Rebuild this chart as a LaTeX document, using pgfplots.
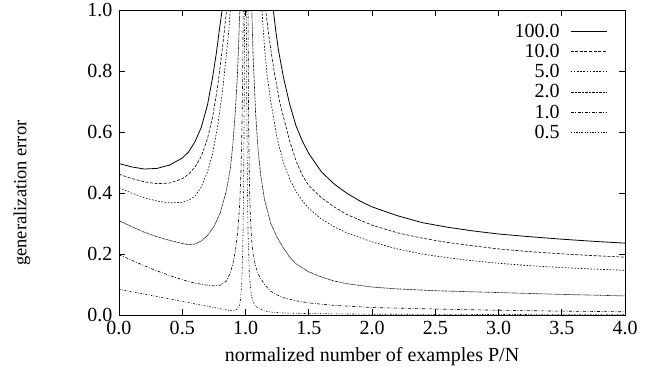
\documentclass[border=0pt]{standalone}
\usepackage{fontspec}
\setmainfont{Liberation Serif}
\usepackage{pgfplots}
\pgfplotsset{compat=1.18}
\begin{document}
\begin{tikzpicture}
\begin{axis}[
  name=ax,
  scale only axis,
  width=506pt, height=305pt,
  xmin=0, xmax=4, ymin=0, ymax=1,
  xtick={0,0.5,...,4}, ytick={0,0.2,...,1},
  tick pos=both, tick align=inside,
  major tick length=6pt,
  axis line style={line width=0.9pt},
  every tick/.style={line width=0.9pt,black},
  font=\fontsize{20}{23}\selectfont,
  /pgf/number format/assume math mode=true,
  xticklabel style={yshift=-3pt,/pgf/number format/.cd,fixed,zerofill,precision=1},
  yticklabel style={xshift=-3pt,/pgf/number format/.cd,fixed,zerofill,precision=1},
  xlabel={normalized number of examples P/N},
  ylabel={generalization error},
  ylabel style={at={(axis description cs:-0.192,0.40)},anchor=center,font=\fontsize{18.5}{21}\selectfont},
  xlabel style={at={(axis description cs:0.5,0)},anchor=north,yshift=-29pt,font=\fontsize{20}{23}\selectfont},
  clip=true,
  legend style={draw=none,fill=none,at={(axis cs:3.86,0.962)},anchor=north east,
    row sep=1.4pt,font=\fontsize{20}{23}\selectfont,inner sep=0pt},
  legend cell align=right,
  legend plot pos=right,
  legend image code/.code={\path[draw=none,fill=none] (0pt,0pt) rectangle (45pt,0pt);\draw[#1] (9pt,0pt) -- (45pt,0pt);},
  every axis plot/.append style={line width=0.6pt,black},
]
% 100.0
\addplot[line width=0.8pt] coordinates {(0,0.497)(0.1,0.486)(0.2,0.479)(0.3,0.481)(0.4,0.492)(0.5,0.515)(0.55,0.535)(0.6,0.568)(0.65,0.615)(0.7,0.69)(0.74,0.78)(0.77,0.86)(0.79,0.925)(0.815,1.0)(0.83,1.05)};
\addlegendentry{100.0}
% 10.0
\addplot[dash pattern=on 3pt off 1.6pt] coordinates {(0,0.462)(0.1,0.448)(0.2,0.437)(0.3,0.431)(0.4,0.433)(0.5,0.447)(0.55,0.462)(0.6,0.485)(0.65,0.52)(0.7,0.58)(0.74,0.65)(0.78,0.75)(0.81,0.85)(0.83,0.92)(0.85,1.0)(0.86,1.05)};
\addlegendentry{10.0}
% 5.0
\addplot[dash pattern=on 1.6pt off 1.6pt] coordinates {(0,0.418)(0.1,0.40)(0.2,0.385)(0.3,0.374)(0.4,0.368)(0.5,0.37)(0.55,0.376)(0.6,0.39)(0.65,0.42)(0.7,0.47)(0.74,0.53)(0.78,0.62)(0.82,0.74)(0.85,0.86)(0.87,0.94)(0.88,1.0)(0.89,1.05)};
\addlegendentry{5.0}
% 2.0
\addplot[line width=0.65pt,dash pattern=on 0.8pt off 0.6pt] coordinates {(0,0.31)(0.1,0.29)(0.2,0.272)(0.3,0.257)(0.4,0.245)(0.5,0.235)(0.55,0.231)(0.6,0.233)(0.65,0.243)(0.7,0.262)(0.75,0.29)(0.8,0.335)(0.85,0.41)(0.88,0.48)(0.9,0.56)(0.92,0.67)(0.935,0.78)(0.945,0.88)(0.955,1.0)(0.96,1.05)};
\addlegendentry{2.0}
% 1.0
\addplot[dash pattern=on 3pt off 1.6pt on 0.8pt off 1.6pt] coordinates {(0,0.198)(0.1,0.18)(0.2,0.162)(0.3,0.145)(0.4,0.13)(0.5,0.116)(0.6,0.105)(0.7,0.098)(0.75,0.096)(0.8,0.098)(0.85,0.112)(0.88,0.14)(0.9,0.168)(0.92,0.21)(0.94,0.28)(0.955,0.37)(0.965,0.48)(0.972,0.62)(0.978,0.8)(0.982,1.0)(0.984,1.05)};
\addlegendentry{1.0}
% 0.5
\addplot[dash pattern=on 1.6pt off 1.6pt on 0.6pt off 1.6pt] coordinates {(0,0.085)(0.1,0.077)(0.2,0.069)(0.3,0.061)(0.4,0.053)(0.5,0.045)(0.6,0.037)(0.7,0.029)(0.8,0.021)(0.85,0.017)(0.9,0.014)(0.93,0.018)(0.95,0.03)(0.96,0.05)(0.97,0.1)(0.975,0.16)(0.98,0.26)(0.985,0.42)(0.99,0.7)(0.993,1.0)(0.994,1.05)};
\addlegendentry{0.5}
% right branches
\addplot[line width=0.8pt,forget plot] coordinates {(1.21,1.05)(1.22,1.0)(1.24,0.93)(1.26,0.87)(1.28,0.825)(1.3,0.78)(1.35,0.69)(1.4,0.62)(1.45,0.57)(1.5,0.53)(1.6,0.47)(1.7,0.43)(1.8,0.40)(1.9,0.375)(2.0,0.355)(2.2,0.326)(2.4,0.303)(2.6,0.288)(2.8,0.276)(3.0,0.266)(3.25,0.257)(3.5,0.249)(3.75,0.242)(4.0,0.236)};
\addplot[dash pattern=on 3pt off 1.6pt,forget plot] coordinates {(1.15,1.05)(1.16,1.0)(1.18,0.93)(1.2,0.87)(1.23,0.79)(1.27,0.70)(1.3,0.65)(1.35,0.57)(1.4,0.505)(1.45,0.458)(1.5,0.425)(1.6,0.385)(1.7,0.355)(1.8,0.33)(2.0,0.295)(2.2,0.27)(2.4,0.252)(2.6,0.238)(2.8,0.227)(3.0,0.217)(3.25,0.208)(3.5,0.201)(3.75,0.195)(4.0,0.19)};
\addplot[dash pattern=on 1.6pt off 1.6pt,forget plot] coordinates {(1.125,1.05)(1.13,1.0)(1.15,0.88)(1.17,0.79)(1.2,0.70)(1.25,0.58)(1.3,0.50)(1.35,0.445)(1.4,0.405)(1.45,0.375)(1.5,0.35)(1.6,0.315)(1.7,0.29)(1.8,0.27)(2.0,0.24)(2.2,0.217)(2.4,0.20)(2.6,0.188)(2.8,0.178)(3.0,0.17)(3.25,0.162)(3.5,0.156)(3.75,0.151)(4.0,0.147)};
\addplot[line width=0.65pt,dash pattern=on 0.8pt off 0.6pt,forget plot] coordinates {(1.047,1.05)(1.05,1.0)(1.06,0.85)(1.08,0.66)(1.1,0.54)(1.12,0.46)(1.15,0.38)(1.2,0.30)(1.25,0.255)(1.3,0.22)(1.35,0.19)(1.4,0.168)(1.5,0.142)(1.6,0.125)(1.7,0.112)(1.8,0.103)(2.0,0.092)(2.2,0.086)(2.5,0.08)(3.0,0.074)(3.5,0.068)(4.0,0.063)};
\addplot[dash pattern=on 3pt off 1.6pt on 0.8pt off 1.6pt,forget plot] coordinates {(1.019,1.05)(1.02,1.0)(1.022,0.8)(1.025,0.62)(1.03,0.46)(1.035,0.37)(1.04,0.31)(1.05,0.24)(1.06,0.2)(1.08,0.16)(1.1,0.135)(1.15,0.1)(1.2,0.078)(1.25,0.066)(1.3,0.057)(1.4,0.047)(1.5,0.04)(1.7,0.032)(2.0,0.025)(2.5,0.02)(3.0,0.016)(3.5,0.013)(4.0,0.011)};
\addplot[dash pattern=on 1.6pt off 1.6pt on 0.6pt off 1.6pt,forget plot] coordinates {(1.006,1.05)(1.007,1.0)(1.01,0.7)(1.015,0.42)(1.02,0.27)(1.03,0.14)(1.04,0.085)(1.05,0.058)(1.07,0.035)(1.1,0.022)(1.15,0.014)(1.2,0.01)(1.3,0.007)(1.5,0.005)(2.0,0.003)(3.0,0.002)(4.0,0.0015)};
\end{axis}
\path ([xshift=-119pt,yshift=-60pt]ax.south west) rectangle ([xshift=38pt,yshift=8pt]ax.north east);
\end{tikzpicture}
\end{document}
